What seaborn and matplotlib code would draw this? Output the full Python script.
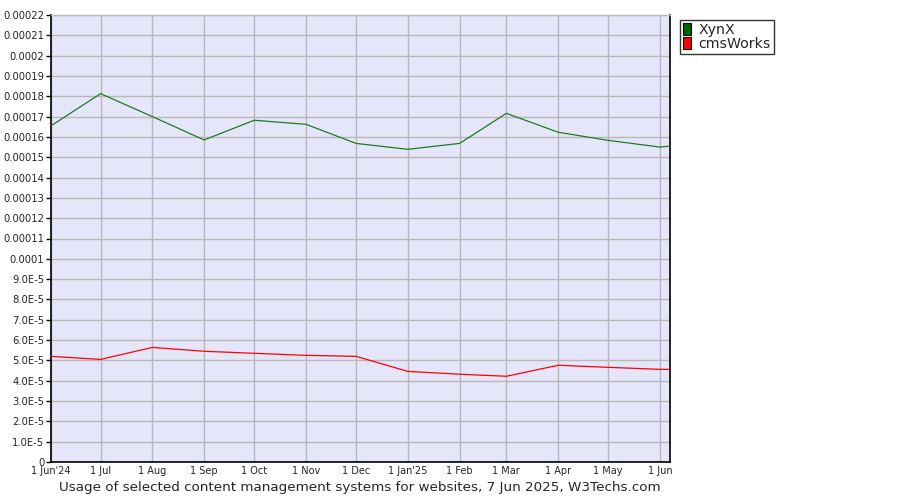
import matplotlib
matplotlib.use("Agg")
import matplotlib.pyplot as plt
import seaborn as sns
import pandas as pd
from matplotlib.patches import Patch

dates = ["2024-06-01", "2024-07-01", "2024-08-01", "2024-09-01", "2024-10-01",
         "2024-11-01", "2024-12-01", "2025-01-01", "2025-02-01", "2025-03-01",
         "2025-04-01", "2025-05-01", "2025-06-01", "2025-06-07"]
xynx = [1.653e-4, 1.813e-4, 1.700e-4, 1.585e-4, 1.682e-4, 1.662e-4, 1.568e-4,
        1.539e-4, 1.568e-4, 1.716e-4, 1.623e-4, 1.583e-4, 1.550e-4, 1.555e-4]
cmsworks = [5.20e-5, 5.05e-5, 5.64e-5, 5.45e-5, 5.35e-5, 5.25e-5, 5.20e-5,
            4.46e-5, 4.32e-5, 4.22e-5, 4.76e-5, 4.66e-5, 4.56e-5, 4.56e-5]
series_names = ["XynX", "cmsWorks"]
series_colors = ["#1e7b1e", "#ff0000"]
legend_colors = ["#006400", "#ff0000"]

tick_dates = ["2024-06-01", "2024-07-01", "2024-08-01", "2024-09-01", "2024-10-01",
              "2024-11-01", "2024-12-01", "2025-01-01", "2025-02-01", "2025-03-01",
              "2025-04-01", "2025-05-01", "2025-06-01"]
tick_labels = ["1 Jun'24", "1 Jul", "1 Aug", "1 Sep", "1 Oct", "1 Nov", "1 Dec",
               "1 Jan'25", "1 Feb", "1 Mar", "1 Apr", "1 May", "1 Jun"]
y_ticks = [i * 1e-5 for i in range(23)]
y_labels = ["0", "1.0E-5", "2.0E-5", "3.0E-5", "4.0E-5", "5.0E-5", "6.0E-5",
            "7.0E-5", "8.0E-5", "9.0E-5", "0.0001", "0.00011", "0.00012", "0.00013",
            "0.00014", "0.00015", "0.00016", "0.00017", "0.00018", "0.00019",
            "0.0002", "0.00021", "0.00022"]
title = "Usage of selected content management systems for websites, 7 Jun 2025, W3Techs.com"

sns.set_theme(style="white")
plt.rcParams['font.family'] = ['DejaVu Sans']

df = pd.DataFrame({
    "date": pd.to_datetime(dates * 2),
    "value": xynx + cmsworks,
    "series": [series_names[0]] * len(dates) + [series_names[1]] * len(dates),
})

fig = plt.figure(figsize=(9, 5), dpi=100)
ax = fig.add_axes([50.5 / 900, 38 / 500, (670 - 50.5) / 900, (462 - 15) / 500])
ax.set_facecolor("#e6e6fa")

sns.lineplot(data=df, x="date", y="value", hue="series", palette=series_colors,
             linewidth=0.9, ax=ax, legend=False, zorder=3)

tdates = pd.to_datetime(tick_dates)
ax.set_xticks(tdates)
ax.set_xticklabels(tick_labels, fontsize=7)
ax.set_xlim(pd.Timestamp("2024-06-01"), pd.Timestamp("2025-06-07"))
ax.set_yticks(y_ticks)
ax.set_yticklabels(y_labels, fontsize=7.2)
ax.set_ylim(0, 2.2e-4)
ax.grid(True, color="#b8b8b8", linewidth=1, zorder=0)
ax.set_axisbelow(True)
ax.tick_params(axis="y", length=3.5, width=1, color="black", direction="out", pad=1, left=True)
ax.tick_params(axis="x", length=0, pad=3)
ax.set_xlabel("")
ax.set_ylabel("")
for s in ["left", "bottom", "right"]:
    ax.spines[s].set_color("black")
    ax.spines[s].set_linewidth(1.2)
ax.spines["top"].set_color("#b8b8b8")
ax.spines["top"].set_linewidth(1)

fig.text(360 / 900, 1 - 488 / 500, title, ha="center", va="center", fontsize=9.7)

handles = [Patch(facecolor=c, edgecolor="black", linewidth=0.8) for c in legend_colors]
leg = fig.legend(handles, series_names, loc="upper left",
                 bbox_to_anchor=(680 / 900, 1 - 20 / 500), fontsize=10.2,
                 frameon=True, fancybox=False, handlelength=0.6, handleheight=0.9,
                 handletextpad=0.5, labelspacing=0.0, borderpad=0.2,
                 borderaxespad=0)
leg.get_frame().set_edgecolor("black")
leg.get_frame().set_linewidth(1)

fig.savefig("out.png", dpi=100)
